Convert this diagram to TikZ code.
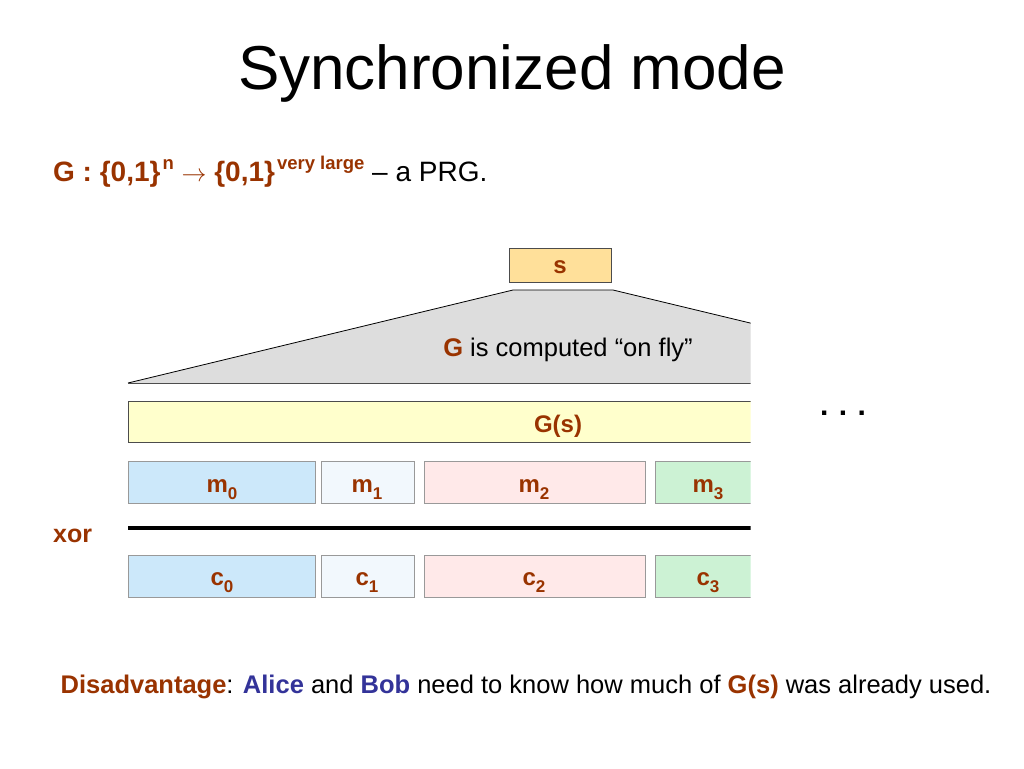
\documentclass[tikz,border=0pt]{standalone}
\usepackage{fontspec}
\setmainfont{Liberation Sans}
\definecolor{brn}{HTML}{993300}
\definecolor{blu}{HTML}{333399}
\definecolor{sfill}{HTML}{FFE09A}
\definecolor{gsfill}{HTML}{FFFFCC}
\definecolor{bluefill}{HTML}{CCE8FA}
\definecolor{palefill}{HTML}{F2F8FD}
\definecolor{pinkfill}{HTML}{FFE9E9}
\definecolor{greenfill}{HTML}{CCF2D4}
\definecolor{trap}{HTML}{DDDDDD}
\definecolor{boxline}{HTML}{999999}
\newcommand\fsz[1]{\fontsize{#1}{#1}\selectfont}
\newcommand\subx[1]{\raisebox{-0.3em}{\fsz{17}#1}}
\newcommand\supx[1]{\kern2pt\raisebox{0.42em}{\fsz{18.5}#1}}
\tikzset{
  seg/.style={draw=boxline, line width=0.8pt, anchor=north west, inner sep=0pt, minimum height=42pt},
  lbl/.style={text=brn, font=\fsz{24}\bfseries, anchor=base, inner sep=0pt},
}
\begin{document}
\begin{tikzpicture}[x=1pt,y=-1pt]
\useasboundingbox[fill=white] (0,0) rectangle (1024,768);
% title
\node[anchor=base, inner sep=0pt, font=\fsz{62}] (title) at (512,89) {Synchronized mode};
% formula
\node[anchor=base west, inner sep=0pt, font=\fsz{28}] (prg) at (53,181)
  {\textcolor{brn}{\bfseries G : \{0,1\}\supx{n} $\rightarrow$ \{0,1\}\supx{very large}} – a PRG.};
% diagram, clipped at the right
\begin{scope}
\clip (0,0) rectangle (750.5,768);
\path[fill=trap] (128,383) -- (513,290) -- (613,290) -- (800,335) -- (800,383) -- cycle;
\draw[line width=0.8pt] (128,383) -- (513,290) -- (613,290) -- (800,335);
\draw[line width=0.8pt, draw=black!70] (128,383) -- (800,383);
\node[seg, draw=black!70, fill=gsfill, minimum width=680pt, minimum height=41pt] (gs) at (128,401) {};
\node[seg, fill=bluefill, minimum width=187pt] (m0) at (128,461) {};
\node[seg, fill=palefill, minimum width=93pt] (m1) at (321,461) {};
\node[seg, fill=pinkfill, minimum width=221pt] (m2) at (424,461) {};
\node[seg, fill=greenfill, minimum width=150pt] (m3) at (655,461) {};
\node[seg, fill=bluefill, minimum width=187pt] (c0) at (128,555) {};
\node[seg, fill=palefill, minimum width=93pt] (c1) at (321,555) {};
\node[seg, fill=pinkfill, minimum width=221pt] (c2) at (424,555) {};
\node[seg, fill=greenfill, minimum width=150pt] (c3) at (655,555) {};
\coordinate (xl) at (128,528);
\coordinate (xr) at (760,528);
\draw[line width=4pt] (xl) -- (xr);
\end{scope}
% seed box
\node[draw=black!70, line width=0.8pt, fill=sfill, minimum width=102pt, minimum height=34pt, inner sep=0pt, anchor=north west] (s) at (509,248) {};
\node[lbl] (slbl) at (560,273) {s};
\node[anchor=base, inner sep=0pt, font=\fsz{25.5}] (fly) at (568,356) {\textcolor{brn}{\bfseries G} is computed “on fly”};
\node[lbl] (gslbl) at (558,432) {G(s)};
\node[lbl] (m0l) at (222,492) {m\subx{0}};
\node[lbl] (m1l) at (367,492) {m\subx{1}};
\node[lbl] (m2l) at (534,492) {m\subx{2}};
\node[lbl] (m3l) at (708,492) {m\subx{3}};
\node[lbl] (c0l) at (222,585) {c\subx{0}};
\node[lbl] (c1l) at (367,585) {c\subx{1}};
\node[lbl] (c2l) at (534,585) {c\subx{2}};
\node[lbl] (c3l) at (708,585) {c\subx{3}};
\node[lbl, anchor=base west, font=\fsz{25}\bfseries] (xor) at (53,542) {xor};
\node[anchor=base, inner sep=0pt, font=\fsz{30}\bfseries] (dots) at (843,415) {.\hspace{0.35em}.\hspace{0.35em}.};
% bottom remark
\node[anchor=base, inner sep=0pt, font=\fsz{25.5}] (note) at (526,693)
  {\textcolor{brn}{\bfseries Disadvantage}: \textcolor{blu}{\bfseries Alice} and \textcolor{blu}{\bfseries Bob} need to know how much of \textcolor{brn}{\bfseries G(s)} was already used.};
\end{tikzpicture}
\end{document}
